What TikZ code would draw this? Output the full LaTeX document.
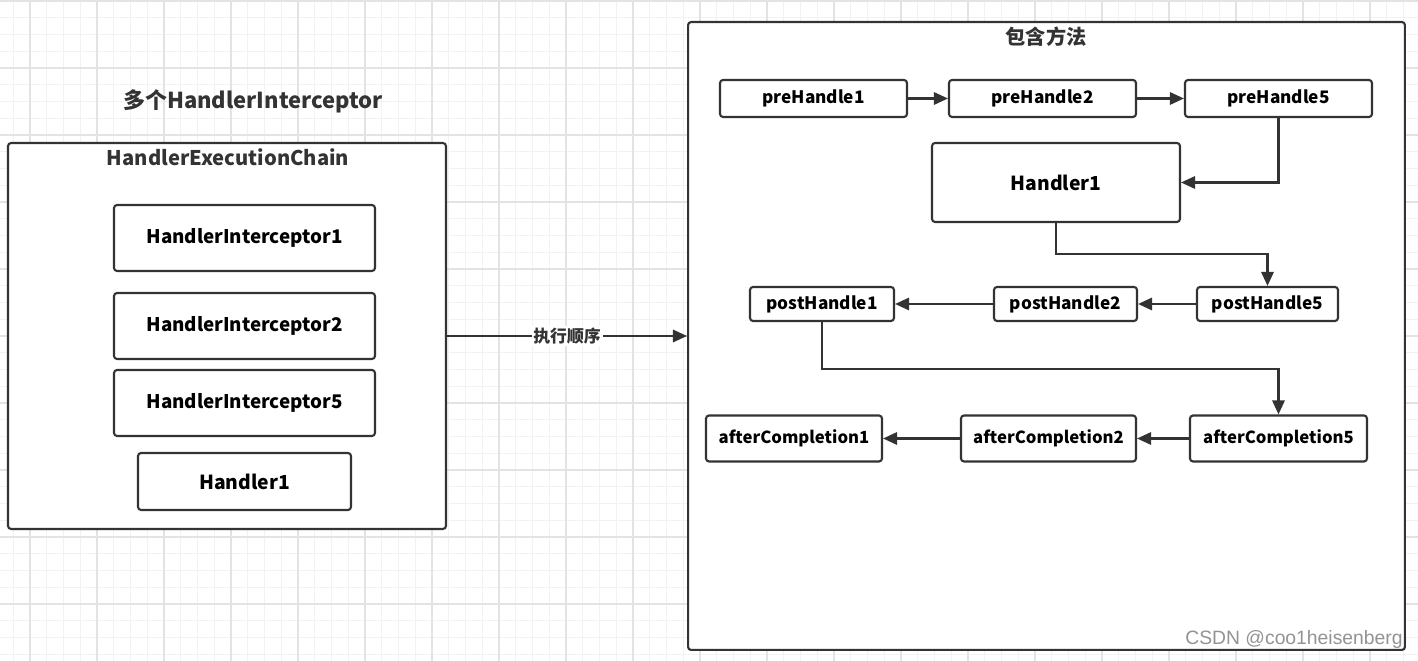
\documentclass[tikz,border=0pt]{standalone}
\usepackage{fontspec}
\setmainfont{Noto Sans CJK SC}
\newfontfamily\markfont{Liberation Sans}
\usepackage{xcolor}
\usepackage{tikz}
\usetikzlibrary{arrows.meta}
\definecolor{ink}{HTML}{333333}
\definecolor{gridminor}{HTML}{F2F2F2}
\definecolor{gridmajor}{HTML}{E3E3E3}

\begin{document}
\begin{tikzpicture}[x=0.02cm, y=-0.02cm,
    box/.style={draw=ink, line width=1.2pt, rounded corners=0.06cm, fill=white, inner sep=0pt, font=\bfseries},
    flow/.style={draw=ink, line width=1.3pt, -{Triangle[length=8pt, width=7pt]}},
    title/.style={text=ink, font=\bfseries}]
                  \useasboundingbox (0,0) rectangle (1418,661);
                  \fill[white] (0,0) rectangle (1418,661); %paper
                  \foreach \gx in {13.25,30,...,1418} \draw[gridminor, line width=0.6pt] (\gx,0) -- (\gx,661);
                  \foreach \gy in {1,17.75,...,661} \draw[gridminor, line width=0.6pt] (0,\gy) -- (1418,\gy);
                  \foreach \gx in {30,97,...,1418} \draw[gridmajor, line width=0.6pt] (\gx,0) -- (\gx,661);
                  \foreach \gy in {1,68,...,661} \draw[gridmajor, line width=0.6pt] (0,\gy) -- (1418,\gy);

                  % left side
                  \node[title, font=\bfseries\fontsize{12.5}{14}\selectfont] (heading) at (253,101) {多个HandlerInterceptor};
                  \node[box, minimum width=8.76cm, minimum height=7.72cm] (chain) at (227,336) {};
                  \node[title, font=\bfseries\fontsize{11.5}{13}\selectfont] (chaintitle) at (228,157) {HandlerExecutionChain};
                  \node[box, minimum width=5.22cm, minimum height=1.32cm, font=\bfseries\fontsize{10.7}{12}\selectfont] (hi1) at (244.5,238) {HandlerInterceptor1};
                  \node[box, minimum width=5.22cm, minimum height=1.32cm, font=\bfseries\fontsize{10.7}{12}\selectfont] (hi2) at (244.5,326) {HandlerInterceptor2};
                  \node[box, minimum width=5.22cm, minimum height=1.32cm, font=\bfseries\fontsize{10.7}{12}\selectfont] (hi5) at (244.5,403) {HandlerInterceptor5};
                  \node[box, minimum width=4.26cm, minimum height=1.14cm, font=\bfseries\fontsize{11}{13}\selectfont] (handlerA) at (244.5,481.5) {Handler1};

                  % right side
                  \node[box, minimum width=14.34cm, minimum height=12.56cm] (methods) at (1046.5,336) {};
                  \node[title, font=\bfseries\fontsize{11.5}{13}\selectfont] (methodstitle) at (1046,37) {包含方法};

                  \draw[flow] (chain.east) -- (methods.west) node[midway, fill=white, inner sep=1pt, text=ink, font=\bfseries\fontsize{9.6}{11}\selectfont] (order) {执行顺序};

                  \node[box, minimum width=3.74cm, minimum height=0.74cm, font=\bfseries\fontsize{9.8}{12}\selectfont] (pre1) at (813.5,98.5) {preHandle1};
                  \node[box, minimum width=3.74cm, minimum height=0.74cm, font=\bfseries\fontsize{9.8}{12}\selectfont] (pre2) at (1042.5,98.5) {preHandle2};
                  \node[box, minimum width=3.74cm, minimum height=0.74cm, font=\bfseries\fontsize{9.8}{12}\selectfont] (pre5) at (1278.5,98.5) {preHandle5};
                  \node[box, minimum width=4.96cm, minimum height=1.58cm, font=\bfseries\fontsize{11}{13}\selectfont] (handlerB) at (1056,182.5) {Handler1};

                  \node[box, minimum width=2.88cm, minimum height=0.68cm, font=\bfseries\fontsize{9.8}{12}\selectfont] (post1) at (822,304) {postHandle1};
                  \node[box, minimum width=2.86cm, minimum height=0.68cm, font=\bfseries\fontsize{9.8}{12}\selectfont] (post2) at (1065.5,304) {postHandle2};
                  \node[box, minimum width=2.82cm, minimum height=0.68cm, font=\bfseries\fontsize{9.8}{12}\selectfont] (post5) at (1267.5,304) {postHandle5};

                  \node[box, minimum width=3.52cm, minimum height=0.92cm, font=\bfseries\fontsize{9.5}{12}\selectfont] (after1) at (794,438.5) {afterCompletion1};
                  \node[box, minimum width=3.50cm, minimum height=0.92cm, font=\bfseries\fontsize{9.5}{12}\selectfont] (after2) at (1048.5,438.5) {afterCompletion2};
                  \node[box, minimum width=3.54cm, minimum height=0.92cm, font=\bfseries\fontsize{9.5}{12}\selectfont] (after5) at (1278.5,438.5) {afterCompletion5};

                  \draw[flow] (pre1) -- (pre2);
                  \draw[flow] (pre2) -- (pre5);
                  \draw[flow] (pre5.south) |- (handlerB.east);
                  \draw[flow] (handlerB.south) -- ++(0,31) -| (post5.north);
                  \draw[flow] (post5) -- (post2);
                  \draw[flow] (post2) -- (post1);
                  \draw[flow] (post1.south) -- ++(0,47) -| (after5.north);
                  \draw[flow] (after5) -- (after2);
                  \draw[flow] (after2) -- (after1);

                  \node[anchor=south east, inner sep=0pt, text=gray!85, font=\markfont\fontsize{11}{13}\selectfont] (mark) at (1403,649) {CSDN @coo1heisenberg};
              \end{tikzpicture}
\end{document}
